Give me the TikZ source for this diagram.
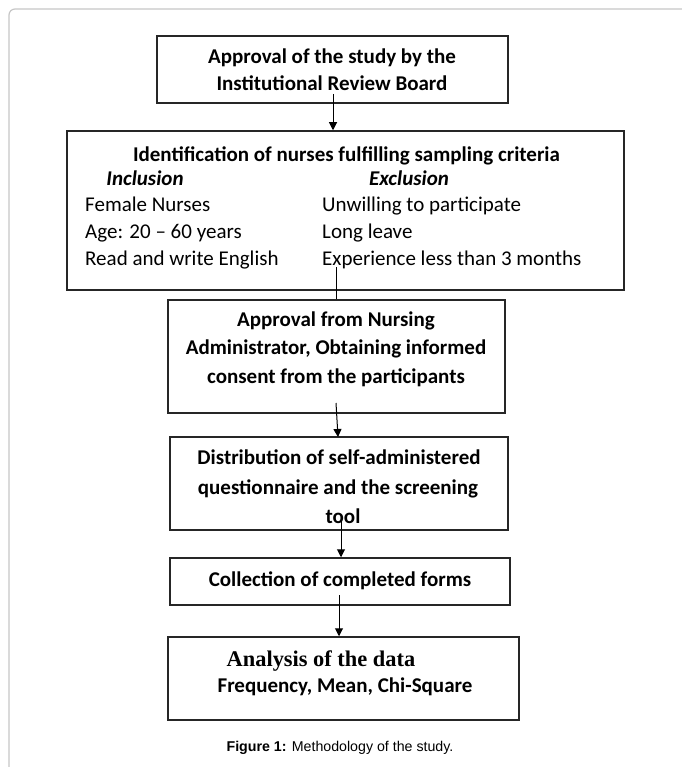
\documentclass[tikz,border=0pt]{standalone}
\usepackage{fontspec}
\setmainfont{Carlito}
\newfontfamily\serifbold{Liberation Serif}
\newfontfamily\arialfont{Liberation Sans}
\usetikzlibrary{arrows.meta}
\begin{document}
\begin{tikzpicture}[x=1pt,y=-1pt,
 box/.style={draw=black!85, line width=1.5pt, inner sep=0pt},
 lbl/.style={font=\fontsize{21}{24}\selectfont\bfseries, inner sep=0pt, anchor=base},
 hdr/.style={font=\fontsize{21}{24}\selectfont\bfseries\itshape, inner sep=0pt, anchor=base},
 item/.style={font=\fontsize{21}{24}\selectfont, anchor=base west, inner sep=0pt},
 conn/.style={line width=1pt, black},
 arr/.style={conn, -{Triangle[length=8pt,width=8pt]}}
]
\useasboundingbox (0,0) rectangle (681,767);
\draw[gray!45, line width=1.2pt, rounded corners=6pt] (9,768) -- (9,9) -- (700,9);

% boxes
\node[box, minimum width=351, minimum height=67] (b1) at (332.5,69.5) {};
\node[box, minimum width=557, minimum height=159] (b2) at (345.5,210.5) {};
\node[box, minimum width=337, minimum height=113] (b3) at (336.5,356.5) {};
\node[box, minimum width=338, minimum height=93] (b4) at (339,483.5) {};
\node[box, minimum width=340, minimum height=47] (b5) at (340,581.5) {};
\node[box, minimum width=351, minimum height=83] (b6) at (343.5,678.5) {};

% texts
\node[lbl] (t1a) at (332,63.5) {Approval of the study by the};
\node[lbl] (t1b) at (332,90.5) {Institutional Review Board};

\node[lbl] (t2) at (346.5,161.5) {Identification of nurses fulfilling sampling criteria};
\node[hdr] (inc) at (145,185.5) {Inclusion};
\node[hdr] (exc) at (409,185.5) {Exclusion};
\node[item] (i1) at (85,211.5) {Female Nurses};
\node[item] (i2) at (85,238.5) {Age: 20 -- 60 years};
\node[item] (i3) at (85,265.5) {Read and write English};
\node[item] (e1) at (322,211.5) {Unwilling to participate};
\node[item] (e2) at (322,238.5) {Long leave};
\node[item] (e3) at (322,265.5) {Experience less than 3 months};

\node[lbl] (t3a) at (336,326.5) {Approval from Nursing};
\node[lbl] (t3b) at (336,354.5) {Administrator, Obtaining informed};
\node[lbl] (t3c) at (336,383.5) {consent from the participants};

\node[lbl] (t4a) at (339,464.5) {Distribution of self-administered};
\node[lbl] (t4b) at (338,494.5) {questionnaire and the screening};
\node[lbl] (t4c) at (343,523.5) {tool};

\node[lbl] (t5) at (340,586.5) {Collection of completed forms};

\node[inner sep=0pt, anchor=base, font=\fontsize{22.4}{25}\selectfont\serifbold\bfseries] (t6a) at (321,666.5) {Analysis of the data};
\node[lbl] (t6b) at (345,692.5) {Frequency, Mean, Chi-Square};

\node[inner sep=0pt, anchor=base, font=\fontsize{14.2}{17}\selectfont\arialfont] (cap) at (340,751) {\textbf{Figure 1:} Methodology of the study.};

% connectors
\coordinate (s1) at (333,94);
\draw[arr] (s1) -- (s1 |- b2.north);
\coordinate (s2) at (336,267);
\draw[conn] (s2) -- (s2 |- b3.north);
\coordinate (s3) at (336,403);
\coordinate (n3) at (338,437);
\draw[arr] (s3) -- (n3);
\coordinate (s4) at (341,520);
\draw[arr] (s4) -- (s4 |- b5.north);
\coordinate (s5) at (339,595);
\draw[arr] (s5) -- (s5 |- b6.north);
\end{tikzpicture}
\end{document}
